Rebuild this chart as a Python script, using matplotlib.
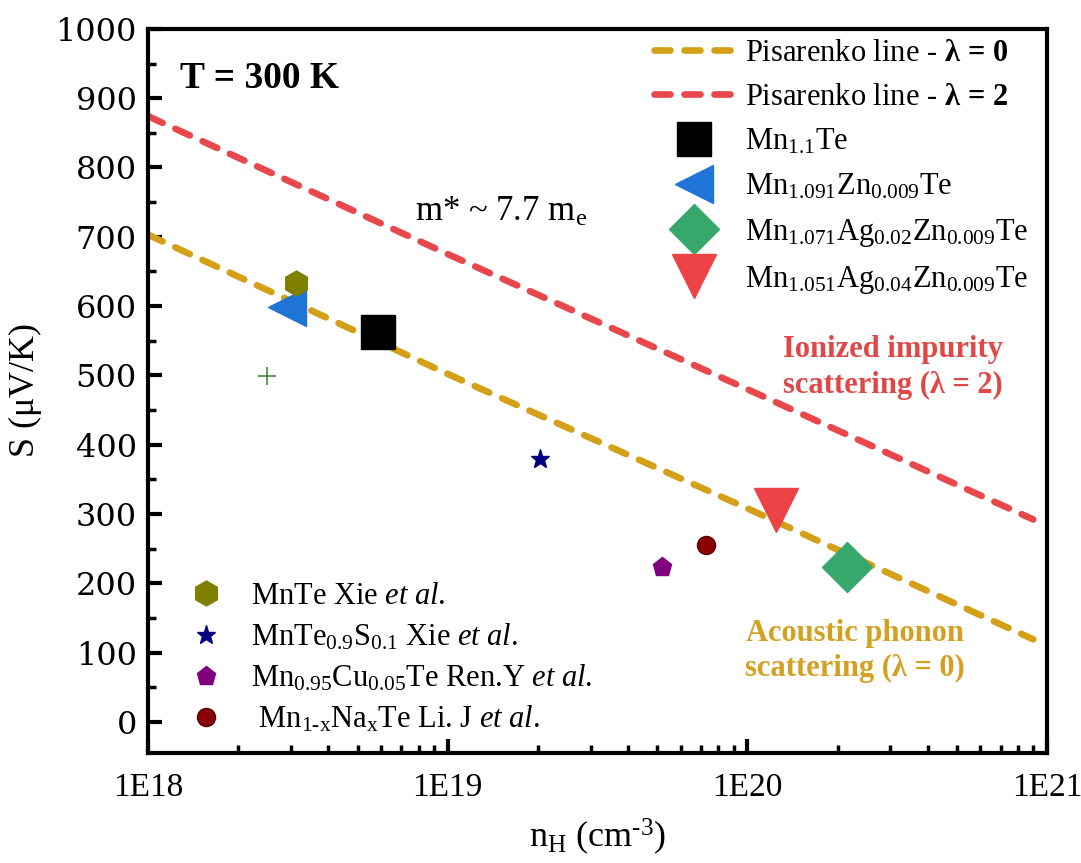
import matplotlib
matplotlib.use("Agg")
import matplotlib.pyplot as plt
from matplotlib.ticker import MultipleLocator, FixedLocator, LogLocator, NullFormatter

plt.rcParams['font.family'] = ['Liberation Serif', 'DejaVu Serif']
plt.rcParams['mathtext.fontset'] = 'custom'
plt.rcParams['mathtext.rm'] = 'Liberation Serif'
plt.rcParams['mathtext.it'] = 'Liberation Serif:italic'
plt.rcParams['mathtext.bf'] = 'Liberation Serif:bold'

# Pisarenko lines
pis_n = [1e18, 1e19, 1e20, 9e20]
pis_l0 = [703, 502, 308, 119]
pis_l2 = [874, 675, 480, 292]

# this work
mn11_n, mn11_s = [5.87e18], [562]
zn_n, zn_s = [2.91e18], [599]
ag02_n, ag02_s = [2.15e20], [224]
ag04_n, ag04_s = [1.25e20], [305]

# literature
xie_n, xie_s = [3.12e18], [634]
xies_n, xies_s = [2.04e19], [379]
ren_n, ren_s = [5.19e19], [223]
li_n, li_s = [7.28e19], [255]
plus_n, plus_s = [2.49e18], [499]

xtick_vals = [1e18, 1e19, 1e20, 1e21]
xtick_text = ['1E18', '1E19', '1E20', '1E21']

fig = plt.figure(figsize=(10.81, 8.63), dpi=100)
ax = fig.add_axes([0.137, 0.1275, 0.8315, 0.839])

dash = dict(linestyle=(0, (2.4, 2.1)), dash_capstyle='round', lw=4.8)
l0, = ax.plot(pis_n, pis_l0, color='#D4A017', label=r'Pisarenko line - $\mathbf{λ\,=\,0}$', **dash)
l2, = ax.plot(pis_n, pis_l2, color='#E8474C', label=r'Pisarenko line - $\mathbf{λ\,=\,2}$', **dash)

h1, = ax.plot(mn11_n, mn11_s, 's', color='black', ms=25, ls='none', label=r'Mn$_{1.1}$Te')
h2, = ax.plot(zn_n, zn_s, '<', color='#1F74D8', ms=28, ls='none', label=r'Mn$_{1.091}$Zn$_{0.009}$Te')
h3, = ax.plot(ag02_n, ag02_s, 'D', color='#37A86B', ms=25, ls='none', label=r'Mn$_{1.071}$Ag$_{0.02}$Zn$_{0.009}$Te')
h4, = ax.plot(ag04_n, ag04_s, 'v', color='#EE4346', ms=31, ls='none', label=r'Mn$_{1.051}$Ag$_{0.04}$Zn$_{0.009}$Te')

g1, = ax.plot(xie_n, xie_s, 'h', color='#808000', ms=18, ls='none', label=r'MnTe Xie $\mathit{et\ al.}$')
g2, = ax.plot(xies_n, xies_s, '*', color='#000080', ms=14, ls='none', label=r'MnTe$_{0.9}$S$_{0.1}$ Xie $\mathit{et\ al.}$')
g3, = ax.plot(ren_n, ren_s, 'p', color='#800080', ms=14, ls='none', label=r'Mn$_{0.95}$Cu$_{0.05}$Te Ren.Y $\mathit{et\ al.}$')
g4, = ax.plot(li_n, li_s, 'o', color='#8B0000', mec='#5a0000', ms=13, ls='none', label=r' Mn$_{\mathrm{1‐x}}$Na$_{\mathrm{x}}$Te Li. J $\mathit{et\ al.}$')
ax.plot(plus_n, plus_s, '+', color='#3C8C3C', ms=13, mew=1.2, ls='none')

ax.set_xscale('log')
ax.set_xlim(1e18, 1e21)
ax.set_ylim(-45, 1000)
ax.set_xticks(xtick_vals)
ax.set_xticklabels(xtick_text)
ax.xaxis.set_minor_locator(LogLocator(base=10, subs=range(2, 10)))
ax.xaxis.set_minor_formatter(NullFormatter())
ax.yaxis.set_major_locator(FixedLocator(range(0, 1001, 100)))
ax.yaxis.set_minor_locator(MultipleLocator(50))

for sp in ax.spines.values():
    sp.set_linewidth(3)
ax.tick_params(which='major', direction='in', length=10, width=3, pad=8)
ax.tick_params(which='minor', direction='in', length=6, width=2.5)
ax.tick_params(axis='x', pad=14, labelsize=24)
ax.tick_params(axis='y', labelsize=23)
for t in ax.get_yticklabels():
    t.set_fontfamily('DejaVu Serif')

ax.set_xlabel(r'n$_\mathrm{H}$ (cm$^{\mathrm{‐3}}$)', fontsize=26, labelpad=10)
ax.set_ylabel(r'S ($\mathrm{μ}$V/K)', fontsize=26, labelpad=8)

ax.text(0.036, 0.932, 'T = 300 K', transform=ax.transAxes, fontsize=27, fontweight='bold', va='center')
ax.text(0.297, 0.746, r'm* ~ 7.7 m$_\mathrm{e}$', transform=ax.transAxes, fontsize=25, va='center')
ax.text(0.829, 0.532, 'Ionized impurity\nscattering (λ = 2)', transform=ax.transAxes, fontsize=22,
        fontweight='bold', color='#E04848', ha='center', va='center', linespacing=1.3)
ax.text(0.786, 0.141, 'Acoustic phonon\nscattering (λ = 0)', transform=ax.transAxes, fontsize=22,
        fontweight='bold', color='#D4A020', ha='center', va='center', linespacing=1.3)

leg1 = ax.legend(handles=[l0, l2, h1, h2, h3, h4], loc='upper right', bbox_to_anchor=(1.0, 1.012),
                 frameon=False, fontsize=22, handlelength=2.6, handletextpad=0.4,
                 labelspacing=0.5, borderaxespad=0.2)
ax.add_artist(leg1)
ax.legend(handles=[g1, g2, g3, g4], loc='lower left', bbox_to_anchor=(0.019, 0.0),
          frameon=False, fontsize=22, handlelength=1.5, handletextpad=0.7,
          labelspacing=0.35, borderaxespad=0.2)

fig.savefig('out.png', dpi=100)
